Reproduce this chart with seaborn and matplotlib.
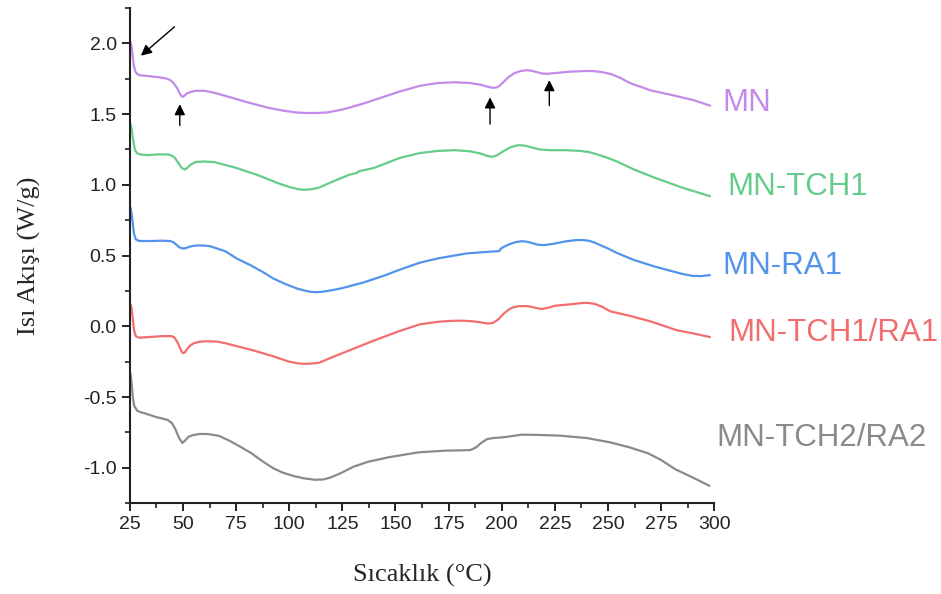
import numpy as np
import pandas as pd
import matplotlib
matplotlib.use("Agg")
import matplotlib.pyplot as plt
from matplotlib.ticker import MultipleLocator, FormatStrFormatter
import seaborn as sns

# DSC thermograms: heat flow (W/g) against temperature (°C)
t_mn = [25.3, 25.8, 26.4, 26.9, 27.6, 28.5, 29.5, 33, 38, 41, 43, 44.5, 45.8, 47, 48.2, 49.2,
        50.0, 50.8, 52.0, 54, 56, 60, 65, 72, 80, 90, 97, 103, 108, 113, 118, 125, 135, 145,
        152, 161.5, 170, 178, 185, 190, 193, 195.5, 197.5, 199, 201, 203.5, 206, 209, 211.8,
        214, 216.5, 219, 221.2, 225, 232, 240, 244, 248, 252, 256, 259, 262, 266, 270, 280,
        290, 298]
v_mn = [2.01, 1.98, 1.90, 1.84, 1.80, 1.783, 1.775, 1.77, 1.762, 1.755, 1.748, 1.735, 1.715,
        1.69, 1.655, 1.628, 1.622, 1.632, 1.648, 1.658, 1.665, 1.665, 1.65, 1.62, 1.585, 1.545,
        1.525, 1.512, 1.508, 1.508, 1.512, 1.532, 1.575, 1.625, 1.66, 1.70, 1.72, 1.725, 1.72,
        1.708, 1.695, 1.686, 1.688, 1.70, 1.73, 1.765, 1.79, 1.805, 1.81, 1.807, 1.797, 1.787,
        1.785, 1.79, 1.80, 1.805, 1.803, 1.795, 1.78, 1.755, 1.73, 1.71, 1.69, 1.668, 1.635,
        1.60, 1.56]

t_tch1 = [25.3, 25.8, 26.4, 27.4, 28.5, 30, 33, 38, 43.0, 45.0, 46.5, 48.0, 49.5, 50.9, 52.0,
          53.5, 56, 60, 65, 75, 85, 95, 100, 104, 106.6, 110, 114, 120, 128, 132, 132.5, 140,
          152, 161.5, 170, 178, 185, 190, 193, 195.5, 198, 201, 204, 207, 208.6, 211, 214, 218,
          222.7, 230, 236.9, 241, 245, 250, 255, 262, 272, 285, 298]
v_tch1 = [1.43, 1.40, 1.33, 1.245, 1.222, 1.215, 1.21, 1.215, 1.215, 1.205, 1.185, 1.15, 1.118,
          1.108, 1.12, 1.142, 1.162, 1.165, 1.16, 1.12, 1.07, 1.01, 0.985, 0.97, 0.965, 0.968,
          0.98, 1.02, 1.07, 1.085, 1.095, 1.12, 1.19, 1.225, 1.24, 1.245, 1.237, 1.222, 1.205,
          1.198, 1.21, 1.24, 1.265, 1.278, 1.28, 1.277, 1.265, 1.25, 1.245, 1.245, 1.24, 1.232,
          1.215, 1.19, 1.16, 1.11, 1.05, 0.98, 0.92]

t_ra1 = [25.3, 25.8, 26.4, 27.0, 27.8, 29, 30, 35, 40, 43.8, 45.5, 47.0, 48.5, 50.0, 51.5, 53,
         55, 57.2, 60, 63, 70, 75.2, 82, 88, 92.5, 98, 104, 108, 110.5, 113, 116, 120, 125, 135,
         145, 152, 161.5, 170, 183.5, 192, 198.9, 199.5, 201, 203, 205, 207, 209, 211, 213, 215,
         217, 219.6, 222, 225, 230, 235.3, 238, 241, 244, 246.3, 250, 254, 262, 271.4, 280,
         285, 290, 294, 298]
v_ra1 = [0.84, 0.80, 0.72, 0.65, 0.615, 0.605, 0.603, 0.603, 0.605, 0.603, 0.595, 0.575, 0.557,
         0.55, 0.553, 0.562, 0.569, 0.572, 0.571, 0.565, 0.53, 0.48, 0.43, 0.38, 0.338, 0.30,
         0.265, 0.25, 0.243, 0.241, 0.245, 0.255, 0.27, 0.31, 0.36, 0.40, 0.45, 0.48, 0.515,
         0.525, 0.532, 0.548, 0.562, 0.576, 0.588, 0.596, 0.601, 0.60, 0.594, 0.585, 0.577,
         0.574, 0.578, 0.585, 0.60, 0.61, 0.61, 0.605, 0.59, 0.574, 0.55, 0.52, 0.47, 0.425,
         0.39, 0.37, 0.356, 0.355, 0.362]

t_tch1_ra1 = [25.3, 25.8, 26.4, 27.0, 27.8, 29, 30, 35, 40, 44.6, 46.0, 47.3, 48.5, 49.4, 50.1,
              50.8, 52, 53.5, 55, 58, 61.9, 66, 70, 83, 92, 100, 104, 106.6, 110, 114, 120, 130,
              140, 152, 161.5, 170, 175.7, 181, 186, 190, 193.7, 196, 198.5, 201, 203.5, 205.5,
              208, 211, 213.3, 216, 218, 219.6, 222, 225, 232, 238.4, 241, 244, 247, 251, 260,
              270, 282.4, 290, 298]
v_tch1_ra1 = [0.156, 0.13, 0.05, -0.03, -0.07, -0.079, -0.08, -0.075, -0.07, -0.069, -0.08,
              -0.11, -0.15, -0.18, -0.19, -0.185, -0.16, -0.135, -0.12, -0.108, -0.106, -0.108,
              -0.12, -0.17, -0.21, -0.25, -0.262, -0.265, -0.264, -0.258, -0.22, -0.16, -0.10,
              -0.033, 0.014, 0.032, 0.038, 0.04, 0.036, 0.028, 0.019, 0.025, 0.05, 0.09, 0.12,
              0.135, 0.142, 0.143, 0.14, 0.13, 0.124, 0.124, 0.132, 0.145, 0.155, 0.165, 0.165,
              0.157, 0.14, 0.106, 0.075, 0.035, -0.028, -0.05, -0.076]

t_tch2_ra2 = [25.3, 25.8, 26.4, 27.0, 28.4, 30, 32, 37, 42.8, 44.8, 46.4, 48.0, 49.7, 50.8,
              52.7, 55, 58.1, 62, 67, 72, 76.1, 82, 87, 92.3, 97, 102, 107, 112.2, 116, 119.4,
              124, 130.2, 137, 146.4, 160.8, 173.5, 181, 185.2, 187.9, 190.5, 193.2, 196, 200.4,
              204, 209.4, 215, 227.4, 240, 250.9, 260, 268.9, 275, 281.5, 290, 297.8]
v_tch2_ra2 = [-0.335, -0.40, -0.50, -0.56, -0.596, -0.607, -0.615, -0.64, -0.662, -0.685,
              -0.726, -0.785, -0.825, -0.81, -0.78, -0.768, -0.761, -0.762, -0.775, -0.81,
              -0.844, -0.895, -0.95, -1.002, -1.035, -1.058, -1.075, -1.085, -1.083, -1.069,
              -1.04, -0.993, -0.958, -0.927, -0.891, -0.879, -0.877, -0.875, -0.856, -0.822,
              -0.797, -0.79, -0.785, -0.778, -0.766, -0.767, -0.773, -0.79, -0.82, -0.855,
              -0.898, -0.945, -1.009, -1.07, -1.128]

samples = ["MN", "MN-TCH1", "MN-RA1", "MN-TCH1/RA1", "MN-TCH2/RA2"]
colors = ["#c48ae8", "#66cc8c", "#5294ec", "#f26e6e", "#8a8a8a"]
# end-of-curve label anchors (°C, W/g)
label_x = [303.7, 306.0, 303.7, 306.5, 300.9]
label_y = [1.58, 0.986, 0.426, -0.05, -0.787]

series = [(t_mn, v_mn), (t_tch1, v_tch1), (t_ra1, v_ra1),
          (t_tch1_ra1, v_tch1_ra1), (t_tch2_ra2, v_tch2_ra2)]
df = pd.concat(
    [pd.DataFrame({"T": t, "HF": v, "sample": name}) for name, (t, v) in zip(samples, series)],
    ignore_index=True,
)

sns.set_style("ticks")
plt.rcParams["font.family"] = ["Liberation Sans", "DejaVu Sans"]
plt.rcParams["axes.unicode_minus"] = False

fig = plt.figure(figsize=(9.41, 5.94), dpi=100)
ax = fig.add_axes([0.138, 0.153, 0.621, 0.8335])

sns.lineplot(data=df, x="T", y="HF", hue="sample", hue_order=samples,
             palette=colors, linewidth=1.6, legend=False, sort=False, ax=ax)
for line in ax.lines:
    line.set_solid_joinstyle("round")

ax.set_xlim(25, 300)
ax.set_ylim(-1.25, 2.25)
ax.xaxis.set_major_locator(MultipleLocator(25))
ax.xaxis.set_minor_locator(MultipleLocator(12.5))
ax.yaxis.set_major_locator(MultipleLocator(0.5))
ax.yaxis.set_minor_locator(MultipleLocator(0.25))
ax.yaxis.set_major_formatter(FormatStrFormatter("%.1f"))
ax.xaxis.set_major_formatter(FormatStrFormatter("%d"))

for side in ["top", "right"]:
    ax.spines[side].set_visible(False)
for side in ["left", "bottom"]:
    ax.spines[side].set_linewidth(1.5)
    ax.spines[side].set_color("#222222")
ax.tick_params(which="major", direction="out", length=6, width=1.4,
               labelsize=14, colors="#222222", labelcolor="#222222")
ax.tick_params(which="minor", direction="out", length=3.5, width=1.2, colors="#222222")

ax.set_xlabel("Sıcaklık (°C)", family=["Liberation Serif", "DejaVu Serif"],
              fontsize=19, labelpad=22)
ax.set_ylabel("Isı Akışı (W/g)", family=["Liberation Serif", "DejaVu Serif"],
              fontsize=19, labelpad=30)

for name, c, lx, ly in zip(samples, colors, label_x, label_y):
    ax.text(lx, ly, name, color=c, fontsize=22.5, ha="left", va="center", clip_on=False)

# transition markers on the MN curve
arrow_kw = dict(arrowstyle="-|>", color="black", lw=1.0, mutation_scale=16)
ax.annotate("", xy=(29.2, 1.90), xytext=(47.0, 2.13), arrowprops=arrow_kw)
ax.annotate("", xy=(48.5, 1.59), xytext=(48.5, 1.40), arrowprops=arrow_kw)
ax.annotate("", xy=(194.5, 1.638), xytext=(194.5, 1.41), arrowprops=arrow_kw)
ax.annotate("", xy=(222.4, 1.76), xytext=(222.4, 1.54), arrowprops=arrow_kw)

fig.savefig("out.png", dpi=100)
